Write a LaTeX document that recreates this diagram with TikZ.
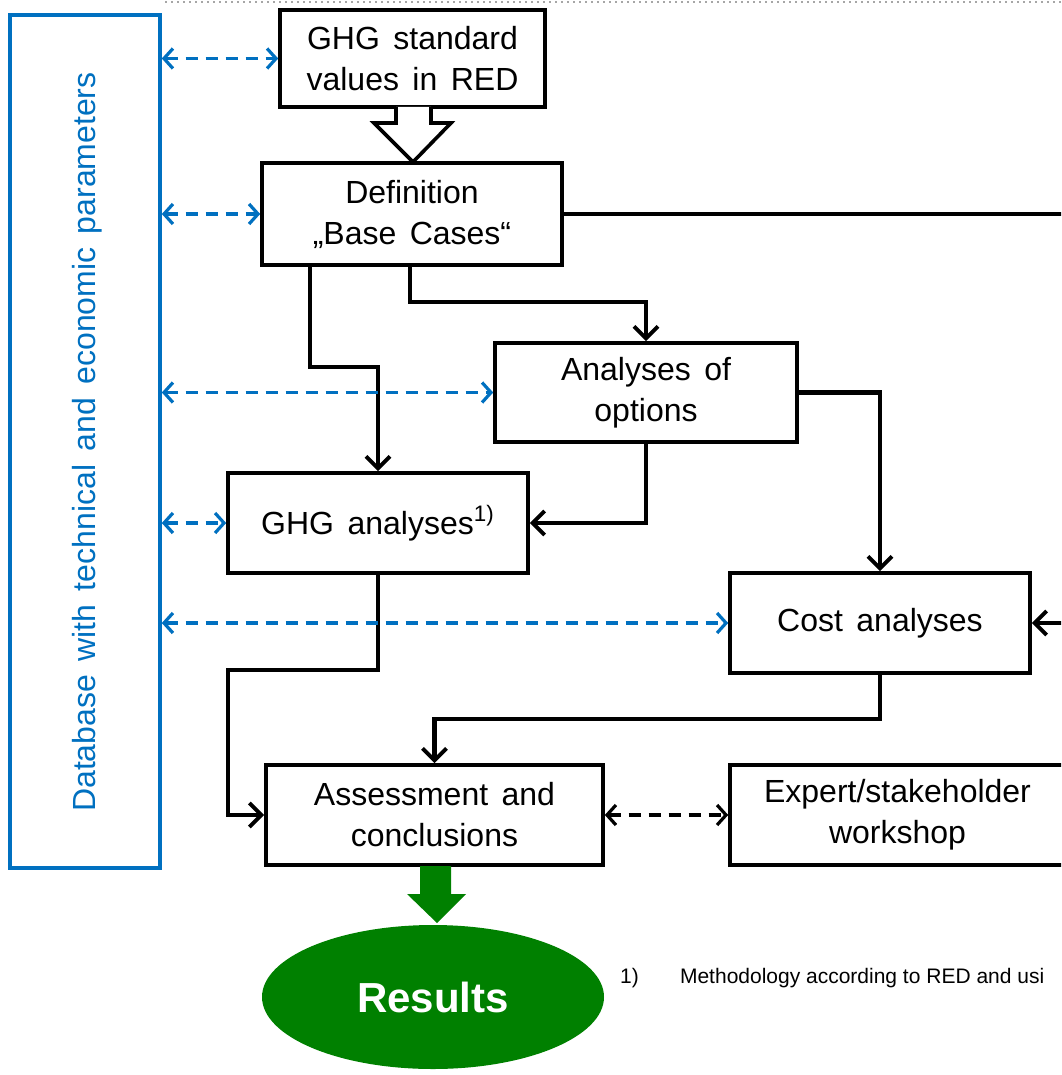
\documentclass[tikz,border=0pt]{standalone}
\usepackage{fontspec}
\setmainfont{Liberation Sans}
\usetikzlibrary{arrows.meta,shapes.geometric}

\definecolor{dbblue}{RGB}{0,112,192}
\definecolor{resgreen}{RGB}{0,128,0}
\newcommand{\boxfont}{\fontsize{16}{20.5}\selectfont\spaceskip=0.42em plus 0.1em}

\tikzset{
  stepbox/.style={draw, line width=1.8pt, fill=white, align=center,
    font=\boxfont, inner sep=0pt, minimum width=150pt, minimum height=50pt},
  flow/.style={-{Straight Barb[length=6pt,width=12pt,line width=2pt]}, line width=2.2pt},
  dbflow/.style={{Straight Barb[length=4.5pt,width=10pt,line width=1.6pt]}-{Straight Barb[length=4.5pt,width=10pt,line width=1.6pt]},
    dbblue, line width=1.7pt, dash pattern=on 6pt off 4pt},
  talk/.style={{Straight Barb[length=4.5pt,width=10pt,line width=1.6pt]}-{Straight Barb[length=4.5pt,width=10pt,line width=1.6pt]},
    line width=1.7pt, dash pattern=on 6pt off 4pt}
}

\begin{document}
\begin{tikzpicture}[x=0.5pt, y=-0.5pt]
  \useasboundingbox (0,0) rectangle (1061,1075);
  \clip (0,0) rectangle (1061,1075);
  % Top border
  \draw[gray!70, line width=1pt, dotted] (165,2) -- (1061,2);
  % Database
  \node[draw=dbblue, line width=1.8pt, minimum width=75pt, minimum height=426.5pt,
    inner sep=0pt] (db) at (85,441.5) {};
  \node[rotate=90, text=dbblue, font=\boxfont] (dbtext) at (87,442)
    {Database with technical and economic parameters};
  % Steps
  \node[stepbox, minimum width=132.5pt, minimum height=48.5pt] (std) at (412.5,58.5)
    {GHG standard\\values in RED};
  \node[stepbox, minimum height=51pt] (def) at (412,214) {Definition\\„Base Cases“};
  \node[stepbox, minimum width=151pt, minimum height=49.5pt] (opt) at (646,392.5)
    {Analyses of\\options};
  \node[stepbox] (ghg) at (378,523) {GHG analyses\textsuperscript{1)}};
  \node[stepbox] (cost) at (880,623) {Cost analyses};
  \node[stepbox, minimum width=168.5pt] (assess) at (434.5,815)
    {Assessment and\\conclusions};
  \node[stepbox, minimum width=167.5pt] (expert) at (897.5,815)
    {Expert/stakeholder\\workshop};
  % Results
  \node[ellipse, fill=resgreen, minimum width=171pt, minimum height=72pt,
    text=white, font=\fontsize{21}{24}\selectfont\bfseries] (res) at (433,997) {Results};
  % Block arrows
  \draw[line width=1.8pt, fill=white, line join=miter]
    (396,107) -- (396,123) -- (374,123) -- (413,162) -- (451,123)
    -- (431,123) -- (431,107);
  \fill[resgreen] (420,866) -- (420,894) -- (407,894) -- (437,923)
    -- (466,894) -- (451,894) -- (451,866) -- cycle;
  % Flow
  \coordinate (rout) at (1064,214);
  \coordinate (rin) at (1064,623);
  \draw[line width=2.2pt] (def.east) -- (rout);
  \draw[flow] (rin) -- (cost.east);
  \draw[flow] ([xshift=-51pt]def.south) -- ++(0,100) -| (ghg.north);
  \draw[flow] ([xshift=-1pt]def.south) -- ++(0,35) -| (opt.north);
  \draw[flow] (opt.south) |- (ghg.east);
  \draw[flow] (opt.east) -| (cost.north);
  \draw[flow] (ghg.south) -- ++(0,95) -| ([xshift=-18pt]assess.west) -- (assess.west);
  \draw[flow] (cost.south) -- ++(0,44) -| (assess.north);
  \draw[talk] (assess.east) -- (expert.west);
  % Database links
  \foreach \target in {std, def, opt, ghg, cost}
    \draw[dbflow] (db.east |- \target.west) -- (\target.west);
  % Footnote
  \node[anchor=west, font=\fontsize{10.5}{12}\selectfont] (fnmark) at (613,978) {1)};
  \node[anchor=west, font=\fontsize{10.5}{12}\selectfont] (fntext) at (673,978)
    {Methodology according to RED and usi};
\end{tikzpicture}
\end{document}
